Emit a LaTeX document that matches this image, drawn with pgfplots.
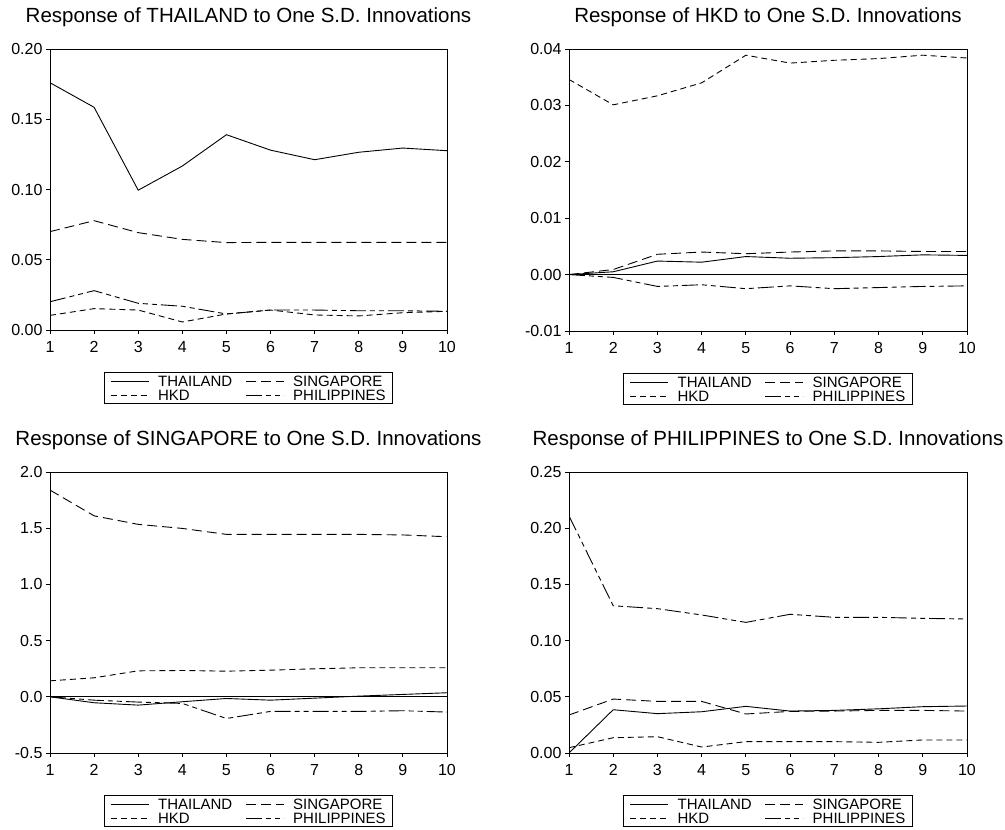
\documentclass[border=0pt]{standalone}
\usepackage{pgfplots}
\pgfplotsset{compat=1.18}
\usepackage{fontspec}
\setmainfont{Liberation Sans}

\pgfplotsset{
  irf/.style={
    scale only axis,
    width=397pt, height=281pt,
    xmin=1, xmax=10,
    xtick={1,2,3,4,5,6,7,8,9,10},
    xticklabels={1,2,3,4,5,6,7,8,9,10},
    scaled y ticks=false,
    tick align=outside, tick pos=left,
    major tick length=4pt,
    axis line style={black, line width=0.9pt},
    tick style={black, line width=0.9pt},
    ticklabel style={font=\fontsize{16}{16}\selectfont, text=black},
    xticklabel style={yshift=-4pt},
    every axis title/.style={at={(0.5,1)}, anchor=base, yshift=26pt,
      font=\fontsize{20.5}{20.5}\selectfont},
    legend columns=2,
    legend cell align=left,
    legend style={at={(0.5,-0.1495)}, anchor=north, draw=black, line width=0.9pt,
      inner xsep=6pt, inner ysep=2pt,
      font=\fontsize{15}{15}\selectfont,
      nodes={inner sep=1pt, text height=11pt, text depth=0pt},
      row sep=1pt,
      /tikz/every odd column/.style={column sep=8pt},
      /tikz/every even column/.style={column sep=12pt}},
    legend image code/.code={\draw[#1, line width=0.9pt] (0pt,0pt) -- (38pt,0pt);},
  },
  thai/.style={black, line width=0.9pt, solid},
  sing/.style={black, line width=0.9pt, dash pattern=on 10pt off 5pt},
  hkd/.style={black, line width=0.9pt, dash pattern=on 6pt off 4pt},
  phil/.style={black, line width=0.9pt, dash pattern=on 16pt off 4pt on 5pt off 4pt on 5pt off 4pt},
}

\begin{document}
\begin{tikzpicture}
\path[use as bounding box] (0pt,0pt) rectangle (1005pt,830pt);

% Panel 1: THAILAND
\begin{axis}[irf, at={(50pt,500pt)}, anchor=south west,
  ymin=0, ymax=0.20,
  ytick={0,0.05,0.10,0.15,0.20},
  yticklabels={0.00,0.05,0.10,0.15,0.20},
  title={Response of THAILAND to One S.D. Innovations}]
\addplot[thai] coordinates {(1,0.176) (2,0.1585) (3,0.0995) (4,0.1167) (5,0.139) (6,0.128) (7,0.1212) (8,0.1265) (9,0.1295) (10,0.1276)};
\addlegendentry{THAILAND}
\addplot[sing] coordinates {(1,0.070) (2,0.0778) (3,0.0693) (4,0.0645) (5,0.0622) (6,0.0624) (7,0.0624) (8,0.0624) (9,0.0624) (10,0.0624)};
\addlegendentry{SINGAPORE}
\addplot[hkd] coordinates {(1,0.0104) (2,0.0152) (3,0.0142) (4,0.0057) (5,0.0114) (6,0.0142) (7,0.0107) (8,0.0100) (9,0.0123) (10,0.0133)};
\addlegendentry{HKD}
\addplot[phil] coordinates {(1,0.0201) (2,0.0280) (3,0.0190) (4,0.0169) (5,0.0114) (6,0.0142) (7,0.0142) (8,0.0137) (9,0.0137) (10,0.0133)};
\addlegendentry{PHILIPPINES}
\end{axis}

% Panel 2: HKD
\begin{axis}[irf, at={(569pt,499pt)}, anchor=south west, width=398pt, height=282pt,
  ymin=-0.01, ymax=0.04,
  ytick={-0.01,0,0.01,0.02,0.03,0.04},
  yticklabels={-0.01,0.00,0.01,0.02,0.03,0.04},
  title={Response of HKD to One S.D. Innovations}]
\addplot[thai] coordinates {(1,0) (2,0.0005) (3,0.0024) (4,0.0022) (5,0.0032) (6,0.0029) (7,0.0030) (8,0.0032) (9,0.0035) (10,0.0034)};
\addlegendentry{THAILAND}
\addplot[sing] coordinates {(1,0) (2,0.0009) (3,0.0036) (4,0.0040) (5,0.0037) (6,0.0040) (7,0.0042) (8,0.0042) (9,0.0041) (10,0.0041)};
\addlegendentry{SINGAPORE}
\addplot[hkd] coordinates {(1,0.0346) (2,0.0301) (3,0.0317) (4,0.0340) (5,0.0389) (6,0.0375) (7,0.0380) (8,0.0383) (9,0.0389) (10,0.0384)};
\addlegendentry{HKD}
\addplot[phil] coordinates {(1,0) (2,-0.0005) (3,-0.0021) (4,-0.0018) (5,-0.0025) (6,-0.0020) (7,-0.0025) (8,-0.0023) (9,-0.0021) (10,-0.0020)};
\addlegendentry{PHILIPPINES}
\addplot[thai, forget plot] coordinates {(1,0) (10,0)};
\end{axis}

% Panel 3: SINGAPORE
\begin{axis}[irf, at={(50pt,77pt)}, anchor=south west,
  ymin=-0.5, ymax=2.0,
  ytick={-0.5,0,0.5,1.0,1.5,2.0},
  yticklabels={-0.5,0.0,0.5,1.0,1.5,2.0},
  title={Response of SINGAPORE to One S.D. Innovations}]
\addplot[thai] coordinates {(1,0) (2,-0.053) (3,-0.074) (4,-0.044) (5,-0.015) (6,-0.030) (7,-0.012) (8,0.006) (9,0.021) (10,0.036)};
\addlegendentry{THAILAND}
\addplot[sing] coordinates {(1,1.839) (2,1.610) (3,1.534) (4,1.498) (5,1.445) (6,1.445) (7,1.445) (8,1.445) (9,1.440) (10,1.424)};
\addlegendentry{SINGAPORE}
\addplot[hkd] coordinates {(1,0.142) (2,0.169) (3,0.231) (4,0.234) (5,0.228) (6,0.237) (7,0.249) (8,0.258) (9,0.258) (10,0.258)};
\addlegendentry{HKD}
\addplot[phil] coordinates {(1,0) (2,-0.030) (3,-0.047) (4,-0.059) (5,-0.193) (6,-0.130) (7,-0.130) (8,-0.130) (9,-0.124) (10,-0.136)};
\addlegendentry{PHILIPPINES}
\addplot[thai, forget plot] coordinates {(1,0) (10,0)};
\end{axis}

% Panel 4: PHILIPPINES
\begin{axis}[irf, at={(569pt,77pt)}, anchor=south west, width=398pt,
  ymin=0, ymax=0.25,
  ytick={0,0.05,0.10,0.15,0.20,0.25},
  yticklabels={0.00,0.05,0.10,0.15,0.20,0.25},
  title={Response of PHILIPPINES to One S.D. Innovations}]
\addplot[thai] coordinates {(1,0) (2,0.0385) (3,0.0350) (4,0.0367) (5,0.0415) (6,0.0373) (7,0.0379) (8,0.0393) (9,0.0412) (10,0.0418)};
\addlegendentry{THAILAND}
\addplot[sing] coordinates {(1,0.0338) (2,0.0480) (3,0.0459) (4,0.0459) (5,0.0347) (6,0.0370) (7,0.0373) (8,0.0379) (9,0.0379) (10,0.0373)};
\addlegendentry{SINGAPORE}
\addplot[hkd] coordinates {(1,0.0047) (2,0.0136) (3,0.0145) (4,0.0053) (5,0.0101) (6,0.0101) (7,0.0101) (8,0.0095) (9,0.0116) (10,0.0116)};
\addlegendentry{HKD}
\addplot[phil] coordinates {(1,0.2109) (2,0.1310) (3,0.1284) (4,0.1228) (5,0.1162) (6,0.1234) (7,0.1207) (8,0.1207) (9,0.1198) (10,0.1192)};
\addlegendentry{PHILIPPINES}
\end{axis}
\end{tikzpicture}
\end{document}
